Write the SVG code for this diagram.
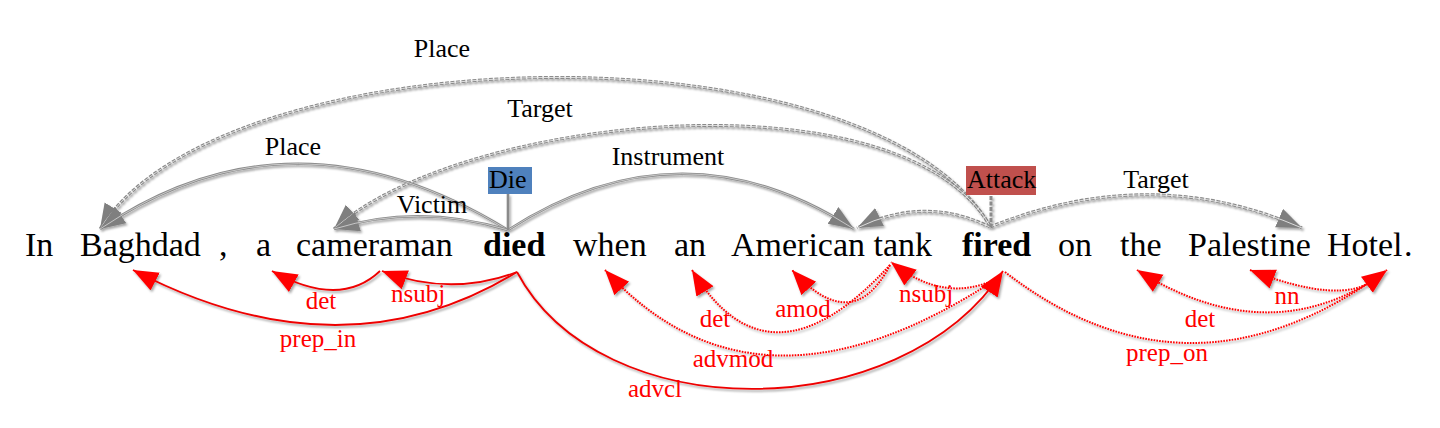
<svg xmlns="http://www.w3.org/2000/svg" width="1440" height="428" viewBox="0 0 1440 428">
<defs>
<style>
.w{font-size:34px;fill:#000}
.b{font-weight:bold}
.gl{font-size:26px;fill:#000;text-anchor:middle}
.rl{font-size:25px;fill:#f00;text-anchor:middle}
.ul{stroke:#222;stroke-width:1.6;fill:none}
.gs{fill:none;stroke:#8a8a8a;stroke-width:2.6}
.gsi{fill:none;stroke:#d8d8d8;stroke-width:0.8}
.gd{fill:none;stroke:#8a8a8a;stroke-width:3;stroke-dasharray:4 1.5}
.gdi{fill:none;stroke:#e6e6e6;stroke-width:0.9}
.rs{fill:none;stroke:#e00;stroke-width:1.8}
.rd{fill:none;stroke:#f00;stroke-width:2;stroke-dasharray:1.6 1.2}
</style>
<filter id="sh" x="-10%" y="-10%" width="120%" height="130%">
<feDropShadow dx="1.5" dy="2" stdDeviation="1" flood-color="#000" flood-opacity="0.35"/>
</filter>
<marker id="ag" markerUnits="userSpaceOnUse" markerWidth="28" markerHeight="22" refX="25" refY="10" orient="auto">
<path d="M0,0 L25,10 L0,20 z" fill="#7f7f7f"/>
</marker>
<marker id="ar" markerUnits="userSpaceOnUse" markerWidth="28" markerHeight="22" refX="25" refY="10" orient="auto">
<path d="M0,0 L25,10 L0,20 z" fill="#f00"/>
</marker>
</defs>
<rect width="1440" height="428" fill="#fff"/>

<g id="connectors">
<g id="event-args" filter="url(#sh)">
<path class="gd" d="M990,226 C870,20 220,35 100,229" marker-end="url(#ag)"/>
<path class="gdi" d="M990,226 C870,20 220,35 100,229"/>
<path class="gd" d="M990,226 C900,70 460,115 334,229" marker-end="url(#ag)"/>
<path class="gdi" d="M990,226 C900,70 460,115 334,229"/>
<path class="gs" d="M508,230 Q293,98 100,229" marker-end="url(#ag)"/>
<path class="gsi" d="M508,230 Q293,98 100,229"/>
<path class="gs" d="M508,230 Q418,203 334,229" marker-end="url(#ag)"/>
<path class="gsi" d="M508,230 Q418,203 334,229"/>
<path class="gs" d="M508,230 Q682,118 854,229" marker-end="url(#ag)"/>
<path class="gsi" d="M508,230 Q682,118 854,229"/>
<path class="gd" d="M990,227 Q925,195 857,228" marker-end="url(#ag)"/>
<path class="gdi" d="M990,227 Q925,195 857,228"/>
<path class="gd" d="M990,227 Q1150,162 1302,228" marker-end="url(#ag)"/>
<path class="gdi" d="M990,227 Q1150,162 1302,228"/>
<path class="gs" d="M508,194 L508,230"/>
<path class="gd" d="M991,196 L991,227"/>
</g>
<g id="event-arg-labels" font-family="'Liberation Serif', serif">
<text class="gl" font-family="'Liberation Serif', serif" x="442" y="57">Place</text>
<text class="gl" font-family="'Liberation Serif', serif" x="540" y="117">Target</text>
<text class="gl" font-family="'Liberation Serif', serif" x="293" y="155">Place</text>
<text class="gl" font-family="'Liberation Serif', serif" x="432" y="213">Victim</text>
<text class="gl" font-family="'Liberation Serif', serif" x="668" y="165">Instrument</text>
<text class="gl" font-family="'Liberation Serif', serif" x="1156" y="188">Target</text>
</g>
<g id="dependencies" filter="url(#sh)">
<path class="rs" d="M380,271 Q340,309 272,271" marker-end="url(#ar)"/>
<path class="rs" d="M517,272 Q450,297 382,271" marker-end="url(#ar)"/>
<path class="rs" d="M517,272 Q342,379 133,270" marker-end="url(#ar)"/>
<path class="rs" d="M517,272 C600,428 900,428 1003,271" marker-end="url(#ar)"/>
<path class="rd" d="M890,265 Q853,337 792,270" marker-end="url(#ar)"/>
<path class="rd" d="M890,265 Q769,397 692,270" marker-end="url(#ar)"/>
<path class="rd" d="M998,278 Q945,305 891,262" marker-end="url(#ar)"/>
<path class="rd" d="M998,278 Q757,437 605,270" marker-end="url(#ar)"/>
<path class="rd" d="M1005,272 Q1190,415 1387,270" marker-end="url(#ar)"/>
<path class="rd" d="M1375,279 Q1264,350 1137,270" marker-end="url(#ar)"/>
<path class="rd" d="M1375,279 Q1342,306 1250,270" marker-end="url(#ar)"/>
</g>
<g id="dependency-labels" font-family="'Liberation Serif', serif">
<text class="rl" font-family="'Liberation Serif', serif" x="321" y="309">det</text>
<text class="rl" font-family="'Liberation Serif', serif" x="418" y="302">nsubj</text>
<text class="rl" font-family="'Liberation Serif', serif" x="318" y="347">prep_in</text>
<text class="rl" font-family="'Liberation Serif', serif" x="655" y="397">advcl</text>
<text class="rl" font-family="'Liberation Serif', serif" x="803" y="317">amod</text>
<text class="rl" font-family="'Liberation Serif', serif" x="715" y="327">det</text>
<text class="rl" font-family="'Liberation Serif', serif" x="926" y="302">nsubj</text>
<text class="rl" font-family="'Liberation Serif', serif" x="733" y="367">advmod</text>
<text class="rl" font-family="'Liberation Serif', serif" x="1287" y="304">nn</text>
<text class="rl" font-family="'Liberation Serif', serif" x="1200" y="327">det</text>
<text class="rl" font-family="'Liberation Serif', serif" x="1167" y="361">prep_on</text>
</g>
</g>

<g id="trigger-die">
<rect x="488" y="167" width="44" height="27" fill="#4f81bd"/>
<text x="489" y="188" font-family="'Liberation Serif', serif" font-size="26" fill="#000">Die</text>
</g>
<g id="trigger-attack">
<rect x="966" y="166" width="70" height="29" fill="#c0504d"/>
<text x="967" y="188" font-family="'Liberation Serif', serif" font-size="26" fill="#000">Attack</text>
</g>

<g id="words" font-family="'Liberation Serif', serif">
<g id="w-in"><text class="w" font-family="'Liberation Serif', serif" x="25" y="256">In</text></g>
<g id="w-baghdad"><text class="w" font-family="'Liberation Serif', serif" x="80" y="256">Baghdad</text><path class="ul" d="M80,260 H203" filter="url(#sh)"/></g>
<g id="w-comma"><text class="w" font-family="'Liberation Serif', serif" x="219" y="256">,</text></g>
<g id="w-a"><text class="w" font-family="'Liberation Serif', serif" x="256" y="256">a</text></g>
<g id="w-cameraman"><text class="w" font-family="'Liberation Serif', serif" x="296" y="256">cameraman</text><path class="ul" d="M296,260 H456" filter="url(#sh)"/></g>
<g id="w-died"><text class="w b" font-family="'Liberation Serif', serif" x="483" y="256">died</text></g>
<g id="w-when"><text class="w" font-family="'Liberation Serif', serif" x="573" y="256">when</text></g>
<g id="w-an"><text class="w" font-family="'Liberation Serif', serif" x="674" y="256">an</text></g>
<g id="w-american-tank"><text class="w" font-family="'Liberation Serif', serif" x="731" y="256">American tank</text><path class="ul" d="M731,260 H935" filter="url(#sh)"/></g>
<g id="w-fired"><text class="w b" font-family="'Liberation Serif', serif" x="962" y="256">fired</text></g>
<g id="w-on"><text class="w" font-family="'Liberation Serif', serif" x="1058" y="256">on</text></g>
<g id="w-the"><text class="w" font-family="'Liberation Serif', serif" x="1120" y="256">the</text></g>
<g id="w-palestine-hotel"><text class="w" font-family="'Liberation Serif', serif" x="1188" y="256">Palestine</text><text class="w" font-family="'Liberation Serif', serif" x="1327" y="256">Hotel</text><path class="ul" d="M1188,260 H1403" filter="url(#sh)"/></g>
<g id="w-period"><text class="w" font-family="'Liberation Serif', serif" x="1404" y="256">.</text></g>
</g>
</svg>
